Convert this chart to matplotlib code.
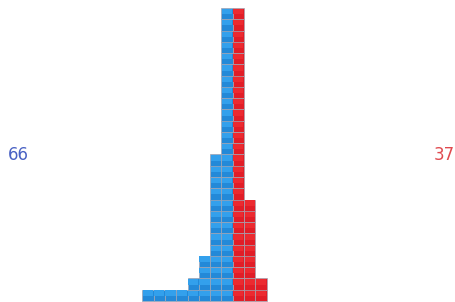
import matplotlib
matplotlib.use("Agg")
import matplotlib.pyplot as plt
from matplotlib.patches import Rectangle

# column heights, left to right
blue_counts = [1, 1, 1, 1, 2, 4, 13, 26]
red_counts = [26, 9, 2]
blue_total = "66"
red_total = "37"

blue_face = "#2389d8"
blue_light = "#33a0ec"
red_face = "#e11d27"
red_light = "#ec2a30"

W, H = 456, 302
fig = plt.figure(figsize=(W / 100, H / 100), dpi=100)
ax = fig.add_axes([0, 0, 1, 1])

# grid unit in pixels and origin of column 0 / row 0
cell_w, cell_h = 11.3, 11.27
x0, y0 = 142.3, 1.0
ax.set_xlim(-x0 / cell_w, (W - x0) / cell_w)
ax.set_ylim(-y0 / cell_h, (H - y0) / cell_h)
ax.axis("off")


def draw_column(col, count, face, light):
    for r in range(count):
        ax.add_patch(Rectangle((col, r), 1, 1, facecolor=face,
                               edgecolor="#a3a6b4", linewidth=0.5))
        # slightly lighter upper part, a hint of the gradient
        ax.add_patch(Rectangle((col + 0.05, r + 0.45), 0.9, 0.5,
                               facecolor=light, edgecolor="none"))


for i, n in enumerate(blue_counts):
    draw_column(i, n, blue_face, blue_light)
for i, n in enumerate(red_counts):
    draw_column(len(blue_counts) + i, n, red_face, red_light)

fig.text(18 / W, 1 - 155 / H, blue_total, color="#4a62c4", fontsize=12,
         ha="center", va="center")
fig.text(444 / W, 1 - 155 / H, red_total, color="#e04a4f", fontsize=12,
         ha="center", va="center")

fig.savefig("out.png", dpi=100)
